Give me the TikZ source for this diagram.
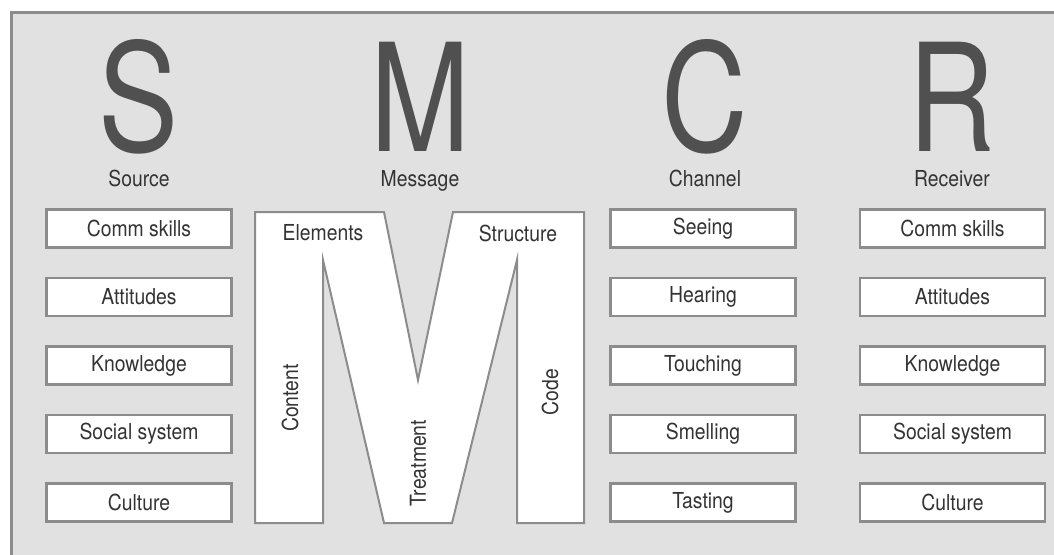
\documentclass[tikz,border=0pt]{standalone}
\usepackage{fontspec}
\setmainfont[FakeStretch=0.88]{TeX Gyre Heros}
\newfontfamily\bigface[FakeStretch=0.8]{TeX Gyre Heros}

\definecolor{panel}{HTML}{E1E1E1}
\definecolor{rim}{HTML}{8C8C8C}
\definecolor{ink}{HTML}{333333}
\definecolor{letter}{HTML}{505050}

\begin{document}
\begin{tikzpicture}[x=1pt, y=-1pt,
	item/.style={draw=rim, line width=2.5pt, fill=white, minimum width=185pt,
		minimum height=38pt, inner sep=0pt, text=ink, font=\fontsize{22}{22}\selectfont},
	head/.style={anchor=base, inner sep=0pt, text depth=0pt, text height=108pt,
		text=letter, font=\bigface\fontsize{150}{150}\selectfont},
	caption/.style={anchor=base, inner sep=0pt, text depth=0pt, text=ink,
		font=\fontsize{22}{22}\selectfont},
	part/.style={inner sep=0pt, text=ink, font=\fontsize{22}{22}\selectfont}]

	\useasboundingbox (0,0) rectangle (1054,554);
	\clip (0,0) rectangle (1054,554);

	% === PANEL === (((
	\fill [panel] (11,12) rectangle (1070,570);
	\draw [rim, line width=3pt] (11,570) |- (1070,12);
	% )))

	% === HEADINGS === (((
	\foreach \x/\l/\t in {139/S/Source, 420/M/Message, 705/C/Channel, 952/R/Receiver} {
		\node [head] (\l) at (\x,151) {\l};
		\node [caption] (\l-cap) at (\x,186) {\t};
	}
	% )))

	% === BOXES === (((
	\foreach \t [count=\i] in {Comm skills, Attitudes, Knowledge, Social system, Culture} {
		\node [item] (src\i) at (139,160+68.5*\i) {\t};
		\node [item] (rcv\i) at (952.5,160+68.5*\i) {\t};
	}
	\foreach \t [count=\i] in {Seeing, Hearing, Touching, Smelling, Tasting}
		\node [item] (chn\i) at (703,160+68.5*\i) {\t};
	% )))

	% === BIG M === (((
	\draw [rim, line width=2pt, fill=white] (255,212) -- (384,212) -- (418,380)
		-- (453,212) -- (584,212) -- (584,523) -- (517,523) -- (517,260)
		-- (452,523) -- (384,523) -- (323,260) -- (323,523) -- (255,523) -- cycle;
	\node [part] (elem) at (323,233) {Elements};
	\node [part] (struc) at (518,233) {Structure};
	\node [part, rotate=90] (cont) at (290,398) {Content};
	\node [part, rotate=90] (treat) at (418,463) {Treatment};
	\node [part, rotate=90] (code) at (550,392) {Code};
	% )))

\end{tikzpicture}
\end{document}
